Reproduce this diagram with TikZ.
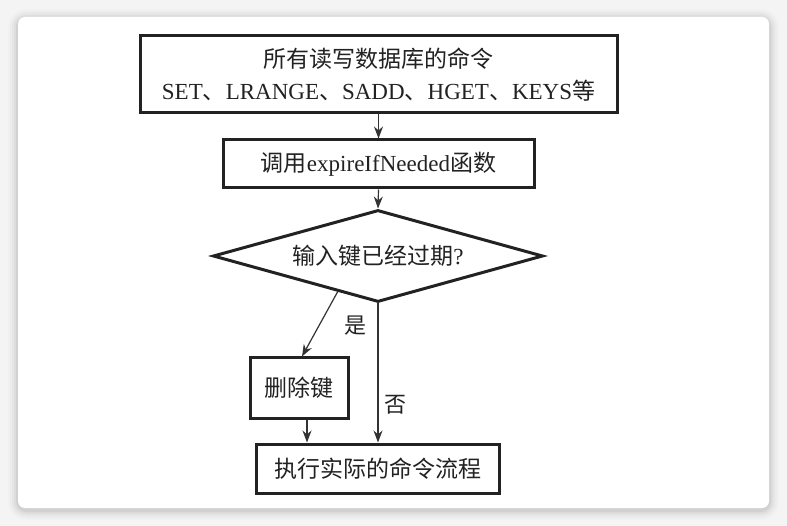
\documentclass[tikz,border=0pt]{standalone}
\usepackage{fontspec}
\setmainfont{Liberation Serif}
\newfontfamily\cjk{Noto Sans CJK SC}
\usetikzlibrary{arrows.meta,shapes.geometric,calc}
\definecolor{ink}{HTML}{222222}
\definecolor{linec}{HTML}{333333}
\definecolor{bgc}{HTML}{F4F4F4}
\begin{document}
\begin{tikzpicture}[x=1pt,y=-1pt,
  box/.style={draw=ink,line width=3pt,rectangle,inner sep=0pt,text=ink,
    font=\fontsize{23}{32}\selectfont,align=center},
  conn/.style={draw=linec,line width=1.2pt,-{Stealth[length=12pt,width=9pt]}},
  lbl/.style={text=ink,font=\fontsize{22}{24}\selectfont\cjk,inner sep=0pt}]
\useasboundingbox (0,0) rectangle (787,526);
\fill[bgc] (0,0) rectangle (787,526);
% card shadow
\foreach \i/\o in {10/0.012,8/0.018,6/0.025,4/0.035,2/0.05}{
  \fill[black,opacity=\o,rounded corners=8+\i] (18-\i,17-\i+2) rectangle (769+\i,508+\i+2);
}
\fill[white,rounded corners=7] (18,17) rectangle (769,508);
% nodes
\node[box,minimum width=477pt,minimum height=77pt] (top) at (378.5,74.5)
  {{\cjk 所有读写数据库的命令}\\SET{\cjk 、}LRANGE{\cjk 、}SADD{\cjk 、}HGET{\cjk 、}KEYS{\cjk 等}};
\node[box,minimum width=311pt,minimum height=48pt] (call) at (378.5,164)
  {{\cjk 调用}expireIfNeeded{\cjk 函数}};
\node[box,diamond,shape aspect=3.6,minimum width=330pt,minimum height=92pt] (dia) at (378,256)
  {{\cjk 输入键已经过期}?};
\node[box,minimum width=98pt,minimum height=60pt] (del) at (299,388) {{\cjk 删除键}};
\node[box,minimum width=243pt,minimum height=49pt] (exec) at (377.5,468.5) {{\cjk 执行实际的命令流程}};
% connectors
\draw[conn] (top.south) -- (call.north);
\draw[conn] (call.south) -- (dia.north);
\coordinate (ys) at ($(dia.west)!0.757!(dia.south)$);
\coordinate (ye) at ($(del.north)+(3,0)$);
\draw[conn] (ys) -- (ye);
\draw[conn] (dia.south) -- (dia.south |- exec.north);
\coordinate (ds) at ($(del.south)+(8,0)$);
\draw[conn] (ds) -- (ds |- exec.north);
% labels
\node[lbl] (yes) at (355,326) {是};
\node[lbl] (no) at (395,405) {否};
\end{tikzpicture}
\end{document}
